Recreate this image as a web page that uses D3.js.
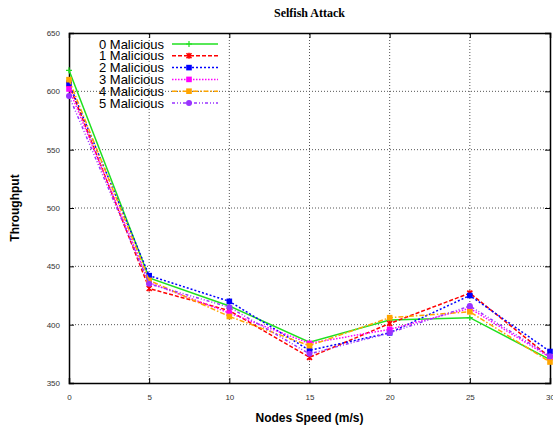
<!DOCTYPE html>
<html>
<head>
<meta charset="utf-8">
<script src="https://cdn.jsdelivr.net/npm/d3@7"></script>
<style>
  html, body { margin: 0; padding: 0; background: #fff; }
  svg { display: block; }
</style>
</head>
<body>
<svg id="chart" width="553" height="427"></svg>
<script>
// Node speed (m/s) on the x axis
const speeds = [0, 5, 10, 15, 20, 25, 30];

// Throughput per number of malicious nodes
const malicious0 = [618, 440, 416, 385, 404, 406, 370];
const malicious1 = [606, 431, 412, 372, 401, 427, 372];
const malicious2 = [607, 442, 420, 378, 393, 425, 377];
const malicious3 = [602, 436, 410, 384, 396, 414, 372];
const malicious4 = [610, 438, 407, 382, 406, 411, 368];
const malicious5 = [596, 435, 415, 375, 393, 416, 373];

const seriesNames = ["0 Malicious", "1 Malicious", "2 Malicious", "3 Malicious", "4 Malicious", "5 Malicious"];
const xTicks = [0, 5, 10, 15, 20, 25, 30];
const yTicks = [350, 400, 450, 500, 550, 600, 650];

const seriesValues = [malicious0, malicious1, malicious2, malicious3, malicious4, malicious5];
const colors = ["#1fe01f", "#ff0000", "#0000ff", "#ff00ff", "#ffa500", "#9933ff"];
const dashes = [null, "4,2", "2,2", "1.5,1.5", "5,2,1.5,2", "3,2,1,2,1,2"];
const markers = ["plus", "cross", "square", "square", "square", "circle"];

const svg = d3.select("#chart");
const margin = { left: 69, right: 3, top: 33, bottom: 44 };
const W = 553, H = 427;

const x = d3.scaleLinear().domain([0, 30]).range([margin.left, W - margin.right]);
const y = d3.scaleLinear().domain([350, 650]).range([H - margin.bottom, margin.top]);

// grid
const grid = svg.append("g");
grid.selectAll(".gx").data(xTicks.slice(1, -1)).join("line")
  .attr("x1", d => x(d)).attr("x2", d => x(d))
  .attr("y1", y(350)).attr("y2", y(650))
  .attr("stroke", "#555").attr("stroke-width", 1).attr("stroke-dasharray", "1,2");
grid.selectAll(".gy").data(yTicks.slice(1, -1)).join("line")
  .attr("y1", d => y(d)).attr("y2", d => y(d))
  .attr("x1", x(0)).attr("x2", x(30))
  .attr("stroke", "#555").attr("stroke-width", 1).attr("stroke-dasharray", "1,2");

// axes with inward ticks
const axisFont = "Liberation Sans, Arial, sans-serif";
const xAxis = svg.append("g").attr("transform", `translate(0,${y(350)})`)
  .call(d3.axisBottom(x).tickValues(xTicks).tickSize(-5).tickPadding(11).tickFormat(d3.format("d")));
const yAxis = svg.append("g").attr("transform", `translate(${x(0)},0)`)
  .call(d3.axisLeft(y).tickValues(yTicks).tickSize(-5).tickPadding(9).tickFormat(d3.format("d")));
const xTop = svg.append("g").attr("transform", `translate(0,${y(650)})`)
  .call(d3.axisTop(x).tickValues(xTicks).tickSize(-5).tickFormat(""));
const yRight = svg.append("g").attr("transform", `translate(${x(30)},0)`)
  .call(d3.axisRight(y).tickValues(yTicks).tickSize(-5).tickFormat(""));
[xAxis, yAxis, xTop, yRight].forEach(g => {
  g.select(".domain").attr("stroke", "#000").attr("stroke-width", 1.5);
  g.selectAll(".tick line").attr("stroke", "#000");
  g.selectAll("text").attr("font-family", axisFont).attr("font-size", 8).attr("fill", "#333");
});

// series
const line = d3.line().x((d, i) => x(speeds[i])).y(d => y(d));

function drawMarker(g, type, cx, cy, color) {
  if (type === "plus") {
    g.append("path").attr("d", `M${cx-3},${cy}H${cx+3}M${cx},${cy-3}V${cy+3}`)
      .attr("stroke", color).attr("stroke-width", 1.2);
  } else if (type === "cross") {
    g.append("path").attr("d", `M${cx-2.5},${cy-2.5}L${cx+2.5},${cy+2.5}M${cx-2.5},${cy+2.5}L${cx+2.5},${cy-2.5}M${cx},${cy-3}V${cy+3}`)
      .attr("stroke", color).attr("stroke-width", 1.6);
  } else if (type === "square") {
    g.append("rect").attr("x", cx - 2.8).attr("y", cy - 2.8).attr("width", 5.6).attr("height", 5.6)
      .attr("fill", color);
  } else {
    g.append("circle").attr("cx", cx).attr("cy", cy).attr("r", 3).attr("fill", color);
  }
}

seriesValues.forEach((vals, s) => {
  const g = svg.append("g");
  g.append("path").datum(vals).attr("d", line)
    .attr("fill", "none").attr("stroke", colors[s]).attr("stroke-width", 1.5)
    .attr("stroke-dasharray", dashes[s]);
  vals.forEach((v, i) => drawMarker(g, markers[s], x(speeds[i]), y(v), colors[s]));
});

// legend
const legend = svg.append("g");
seriesNames.forEach((name, s) => {
  const ly = 44 + s * 11.8;
  legend.append("text").attr("x", 164).attr("y", ly + 4.6).attr("text-anchor", "end")
    .attr("font-family", axisFont).attr("font-size", 13).attr("fill", "#000").text(name);
  legend.append("line").attr("x1", 172).attr("x2", 218).attr("y1", ly).attr("y2", ly)
    .attr("stroke", colors[s]).attr("stroke-width", 1.5).attr("stroke-dasharray", dashes[s]);
  drawMarker(legend, markers[s], 189, ly, colors[s]);
});

// titles
svg.append("text").attr("x", (x(0) + x(30)) / 2).attr("y", 17).attr("text-anchor", "middle")
  .attr("font-family", "Liberation Serif, Times New Roman, serif").attr("font-weight", "bold")
  .attr("font-size", 12).text("Selfish Attack");
svg.append("text").attr("x", (x(0) + x(30)) / 2).attr("y", 422).attr("text-anchor", "middle")
  .attr("font-family", axisFont).attr("font-weight", "bold").attr("font-size", 12)
  .text("Nodes Speed (m/s)");
svg.append("text").attr("transform", `translate(19,${(y(350) + y(650)) / 2}) rotate(-90)`)
  .attr("text-anchor", "middle").attr("font-family", axisFont).attr("font-weight", "bold")
  .attr("font-size", 12).text("Throughput");
</script>
</body>
</html>
